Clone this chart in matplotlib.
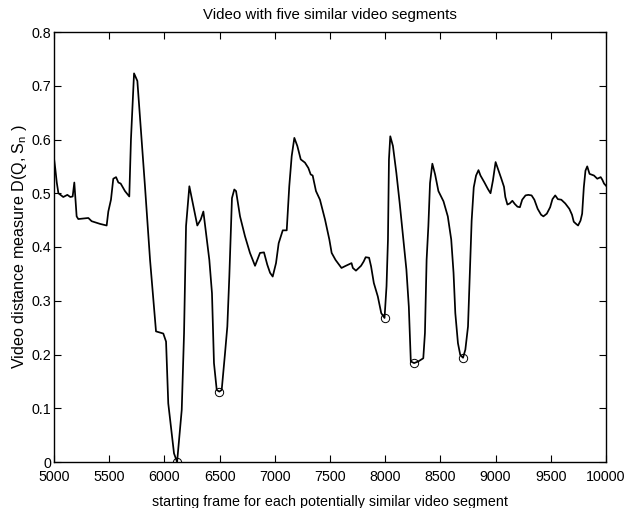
import matplotlib
matplotlib.use("Agg")
import matplotlib.pyplot as plt

# starting frame (x) and distance (y)
frames = [5000, 5012, 5025, 5040, 5084, 5121, 5148, 5169, 5184, 5205, 5220, 5311, 5341,
          5417, 5477, 5492, 5516, 5537, 5562, 5583, 5604, 5643, 5682, 5697, 5725, 5755,
          5785, 5824, 5870, 5924, 5990, 6015, 6035, 6087, 6115, 6157, 6178, 6196, 6226,
          6262, 6298, 6329, 6353, 6377, 6407, 6431, 6449, 6474, 6497, 6519, 6549, 6570,
          6588, 6612, 6633, 6649, 6685, 6730, 6775, 6821, 6842, 6866, 6902, 6932, 6957,
          6981, 7011, 7035, 7072, 7108, 7131, 7153, 7177, 7204, 7235, 7273, 7304, 7325,
          7343, 7373, 7409, 7455, 7494, 7515, 7550, 7604, 7643, 7695, 7707, 7735, 7781,
          7805, 7823, 7854, 7872, 7897, 7933, 7964, 7994, 8012, 8025, 8034, 8046, 8070,
          8101, 8131, 8162, 8192, 8214, 8232, 8262, 8299, 8345, 8360, 8375, 8391, 8406,
          8427, 8452, 8482, 8528, 8567, 8598, 8619, 8635, 8659, 8680, 8705, 8726, 8750,
          8765, 8783, 8802, 8823, 8845, 8863, 8899, 8930, 8954, 8976, 9000, 9027, 9052,
          9076, 9088, 9107, 9128, 9152, 9174, 9198, 9220, 9241, 9271, 9296, 9326, 9351,
          9381, 9412, 9433, 9464, 9494, 9515, 9540, 9564, 9595, 9631, 9668, 9692, 9708,
          9729, 9747, 9769, 9784, 9799, 9814, 9830, 9851, 9891, 9921, 9952, 9967, 9982,
          10000]
distance = [0.565, 0.545, 0.52, 0.50, 0.493, 0.497, 0.493, 0.494, 0.520, 0.457, 0.452,
            0.454, 0.448, 0.443, 0.440, 0.466, 0.488, 0.527, 0.530, 0.520, 0.518, 0.504,
            0.494, 0.600, 0.723, 0.709, 0.625, 0.513, 0.376, 0.243, 0.239, 0.224, 0.109,
            0.016, 0.0, 0.097, 0.240, 0.439, 0.513, 0.476, 0.440, 0.451, 0.466, 0.426,
            0.376, 0.314, 0.184, 0.134, 0.131, 0.134, 0.202, 0.252, 0.345, 0.491, 0.507,
            0.504, 0.457, 0.420, 0.389, 0.365, 0.376, 0.389, 0.390, 0.367, 0.352, 0.345,
            0.370, 0.407, 0.431, 0.431, 0.513, 0.569, 0.603, 0.588, 0.563, 0.557, 0.547,
            0.535, 0.533, 0.504, 0.488, 0.451, 0.414, 0.389, 0.376, 0.361, 0.365, 0.370,
            0.361, 0.356, 0.365, 0.373, 0.381, 0.380, 0.364, 0.333, 0.308, 0.277, 0.268,
            0.327, 0.414, 0.563, 0.606, 0.588, 0.538, 0.482, 0.420, 0.358, 0.289, 0.187,
            0.184, 0.187, 0.193, 0.240, 0.376, 0.439, 0.519, 0.555, 0.535, 0.504, 0.485,
            0.457, 0.414, 0.352, 0.277, 0.221, 0.199, 0.194, 0.209, 0.252, 0.344, 0.449,
            0.511, 0.533, 0.543, 0.533, 0.520, 0.508, 0.500, 0.524, 0.558, 0.542, 0.527,
            0.512, 0.493, 0.479, 0.481, 0.486, 0.480, 0.475, 0.474, 0.488, 0.496, 0.497,
            0.496, 0.488, 0.471, 0.460, 0.457, 0.462, 0.474, 0.489, 0.496, 0.489, 0.488,
            0.481, 0.471, 0.460, 0.447, 0.443, 0.440, 0.449, 0.462, 0.511, 0.542, 0.550,
            0.536, 0.533, 0.527, 0.530, 0.525, 0.518, 0.514]

# detected similar segments (circled minima)
match_frames = [6115, 6497, 7994, 8262, 8705]
match_distance = [0.0, 0.131, 0.268, 0.184, 0.194]

xticks = [5000, 5500, 6000, 6500, 7000, 7500, 8000, 8500, 9000, 9500, 10000]
yticks = [0, 0.1, 0.2, 0.3, 0.4, 0.5, 0.6, 0.7, 0.8]
ytick_labels = ["0", "0.1", "0.2", "0.3", "0.4", "0.5", "0.6", "0.7", "0.8"]

plt.rcParams['font.family'] = ['Liberation Sans', 'DejaVu Sans']

fig = plt.figure(figsize=(6.29, 5.08), dpi=100)
ax = fig.add_axes([54 / 629, 1 - 462 / 508, 552 / 629, 430 / 508])

ax.plot(frames, distance, color='black', linewidth=1.25)
ax.plot(match_frames, match_distance, linestyle='none', marker='o', markersize=6,
        markerfacecolor='none', markeredgecolor='black', markeredgewidth=0.7)

ax.set_xlim(5000, 10000)
ax.set_ylim(0, 0.8)
ax.set_xticks(xticks)
ax.set_xticklabels([str(t) for t in xticks])
ax.set_yticks(yticks)
ax.set_yticklabels(ytick_labels)
ax.tick_params(direction='in', top=True, right=True, length=5, width=0.8,
               labelsize=10.3, colors='black')
ax.tick_params(axis='x', pad=5.5)
ax.tick_params(axis='y', pad=2)
for s in ax.spines.values():
    s.set_linewidth(1.0)

ax.set_title("Video with five similar video segments", fontsize=10.8, pad=9)
ax.set_xlabel("starting frame for each potentially similar video segment", fontsize=10.3, labelpad=8.5)
ax.set_ylabel(r"Video distance measure D(Q, S$_{\mathregular{n}}$ )", fontsize=11.6, labelpad=2)

fig.savefig("out.png", dpi=100)
